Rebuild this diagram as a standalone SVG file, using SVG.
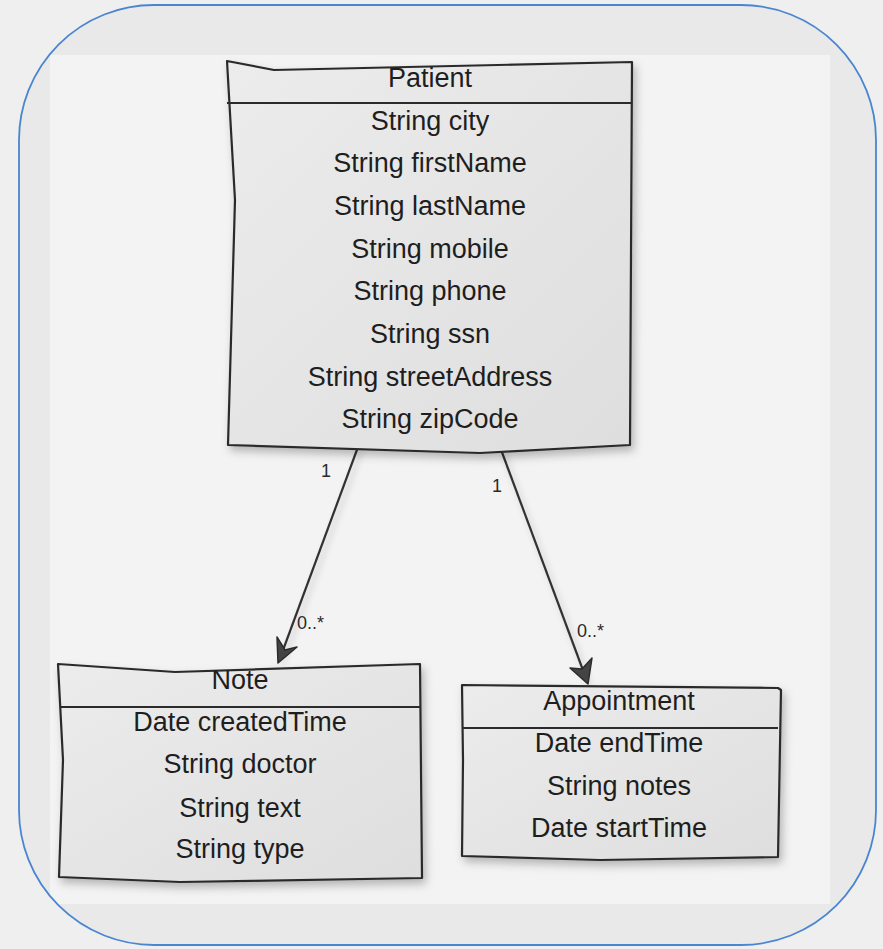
<svg xmlns="http://www.w3.org/2000/svg" width="883" height="949" viewBox="0 0 883 949">
<style>
.box{fill:url(#boxg);stroke:#2b2b2b;stroke-width:2.2;stroke-linejoin:round;filter:url(#sh)}
.sep{stroke:#2b2b2b;stroke-width:2.2;fill:none}
.t{font-family:"Liberation Sans",Arial,sans-serif;font-size:27px;fill:#1e1e1e;text-anchor:middle}
.m{font-family:"Liberation Sans",Arial,sans-serif;font-size:18px;fill:#2a2a2a}
.conn{stroke:#333;stroke-width:2.2;fill:none;filter:url(#sh2)}
.head{fill:#444;stroke:#2b2b2b;stroke-width:1.5;stroke-linejoin:round}
</style>
<defs>
<linearGradient id="boxg" x1="0" y1="0" x2="1" y2="1">
<stop offset="0" stop-color="#ececec"/>
<stop offset="1" stop-color="#dedede"/>
</linearGradient>
<filter id="sh" x="-10%" y="-10%" width="125%" height="125%">
<feDropShadow dx="3" dy="5" stdDeviation="4" flood-color="#000" flood-opacity="0.25"/>
</filter>
<filter id="sh2" x="-20%" y="-10%" width="140%" height="130%">
<feDropShadow dx="3" dy="4" stdDeviation="3" flood-color="#000" flood-opacity="0.2"/>
</filter>
<clipPath id="frame">
<rect x="19" y="5" width="857" height="940" rx="135" ry="135"/>
</clipPath>
</defs>
<rect width="883" height="949" fill="#efefef"/>
<rect x="19" y="5" width="857" height="940" rx="135" ry="135" fill="#e9e9e9"/>
<rect x="50" y="55" width="780" height="849" fill="#f3f3f3" clip-path="url(#frame)"/>
<rect x="19" y="5" width="857" height="940" rx="135" ry="135" fill="none" stroke="#4a86d0" stroke-width="1.8"/>

<g id="connectors">
<path class="conn" d="M358,447 L279,661"/>
<path class="head" d="M278,663 L277,637 L285,650 L297,647 Z"/>
<path class="conn" d="M500,447 L587,681"/>
<path class="head" d="M588,684 L570,668 L582,669 L592,658 Z"/>
<text class="m" x="321" y="477">1</text>
<text class="m" x="297" y="629">0..*</text>
<text class="m" x="492" y="492">1</text>
<text class="m" x="577" y="637">0..*</text>
</g>

<g id="patient">
<path class="box" d="M227,61 L274,70 L632,62 L630,445 L480,453 L228,445 L235,200 Z"/>
<path class="sep" d="M227,103 L632,103"/>
<text class="t" x="430" y="87">Patient</text>
<text class="t" x="430" y="130">String city</text>
<text class="t" x="430" y="172">String firstName</text>
<text class="t" x="430" y="215">String lastName</text>
<text class="t" x="430" y="258">String mobile</text>
<text class="t" x="430" y="300">String phone</text>
<text class="t" x="430" y="343">String ssn</text>
<text class="t" x="430" y="386">String streetAddress</text>
<text class="t" x="430" y="428">String zipCode</text>
</g>

<g id="note">
<path class="box" d="M58,664 L175,672 L420,664 L422,878 L180,882 L59,877 L63,760 Z"/>
<path class="sep" d="M60,707 L420,707"/>
<text class="t" x="240" y="689">Note</text>
<text class="t" x="240" y="731">Date createdTime</text>
<text class="t" x="240" y="773">String doctor</text>
<text class="t" x="240" y="817">String text</text>
<text class="t" x="240" y="858">String type</text>
</g>

<g id="appointment">
<path class="box" d="M462,685 L778,688 L781,690 L778,857 L600,860 L462,856 L463,760 Z"/>
<path class="sep" d="M462,728 L778,728"/>
<text class="t" x="619" y="710">Appointment</text>
<text class="t" x="619" y="752">Date endTime</text>
<text class="t" x="619" y="795">String notes</text>
<text class="t" x="619" y="837">Date startTime</text>
</g>
</svg>
